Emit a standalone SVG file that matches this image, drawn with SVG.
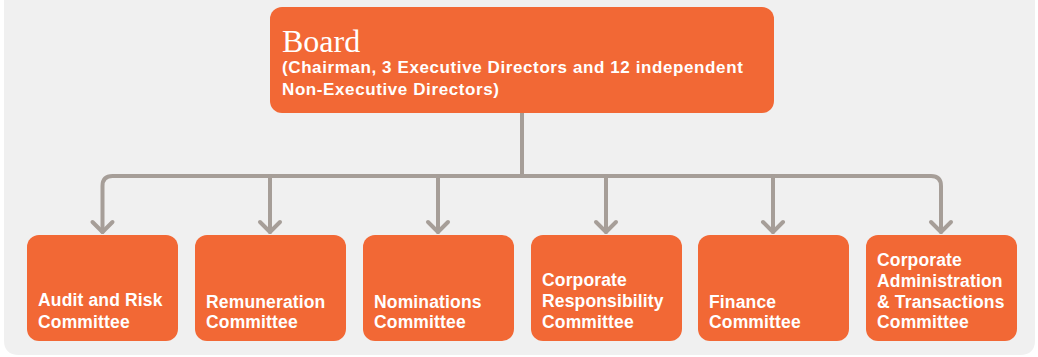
<svg xmlns="http://www.w3.org/2000/svg" width="1038" height="357" viewBox="0 0 1038 357">
<defs>
<style>
.box{fill:#f26835}
.conn{fill:none;stroke:#a69e98;stroke-width:4;stroke-linecap:round;stroke-linejoin:round}
.t{font-family:"Liberation Sans",Arial,sans-serif;font-weight:bold;font-size:17.5px;letter-spacing:0.15px;fill:#ffffff}
.title{font-family:"Liberation Serif","Times New Roman",serif;font-size:32px;fill:#ffffff}
.sub{font-family:"Liberation Sans",Arial,sans-serif;font-weight:bold;font-size:17px;letter-spacing:0.6px;fill:#ffffff}
</style>
</defs>
<rect width="1038" height="357" fill="#ffffff"/>
<path d="M4,-2 L4,340 Q4,355 19,355 L1020,355 Q1035,355 1035,340 L1035,-2 Z" fill="#f0f0f0"/>
<g id="connectors">
<path class="conn" d="M522,113 L522,176"/>
<path class="conn" d="M102.5,232 L102.5,186 Q102.5,176 112.5,176 L931,176 Q941,176 941,186 L941,232"/>
<path class="conn" d="M270,176 L270,232"/>
<path class="conn" d="M438,176 L438,232"/>
<path class="conn" d="M606,176 L606,232"/>
<path class="conn" d="M773,176 L773,232"/>
<path class="conn" d="M92.5,222 L102.5,232 L112.5,222"/>
<path class="conn" d="M260,222 L270,232 L280,222"/>
<path class="conn" d="M428,222 L438,232 L448,222"/>
<path class="conn" d="M596,222 L606,232 L616,222"/>
<path class="conn" d="M763,222 L773,232 L783,222"/>
<path class="conn" d="M931,222 L941,232 L951,222"/>
</g>
<g id="board">
<rect class="box" x="270" y="7" width="504" height="106" rx="12"/>
<text class="title" x="282" y="52">Board</text>
<text class="sub" x="282" y="73">(Chairman, 3 Executive Directors and 12 independent</text>
<text class="sub" x="282" y="95">Non-Executive Directors)</text>
</g>
<g id="audit">
<rect class="box" x="27" y="235" width="151" height="106" rx="12"/>
<text class="t" x="38" y="306">Audit and Risk</text>
<text class="t" x="38" y="328">Committee</text>
</g>
<g id="remuneration">
<rect class="box" x="195" y="235" width="151" height="106" rx="12"/>
<text class="t" x="206" y="308">Remuneration</text>
<text class="t" x="206" y="328">Committee</text>
</g>
<g id="nominations">
<rect class="box" x="363" y="235" width="151" height="106" rx="12"/>
<text class="t" x="374" y="308">Nominations</text>
<text class="t" x="374" y="328">Committee</text>
</g>
<g id="corporate-responsibility">
<rect class="box" x="531" y="235" width="151" height="106" rx="12"/>
<text class="t" x="542" y="286">Corporate</text>
<text class="t" x="542" y="307">Responsibility</text>
<text class="t" x="542" y="328">Committee</text>
</g>
<g id="finance">
<rect class="box" x="698" y="235" width="151" height="106" rx="12"/>
<text class="t" x="709" y="308">Finance</text>
<text class="t" x="709" y="328">Committee</text>
</g>
<g id="corporate-admin">
<rect class="box" x="866" y="235" width="151" height="106" rx="12"/>
<text class="t" x="877" y="266">Corporate</text>
<text class="t" x="877" y="287">Administration</text>
<text class="t" x="877" y="308">&amp; Transactions</text>
<text class="t" x="877" y="328">Committee</text>
</g>
</svg>
